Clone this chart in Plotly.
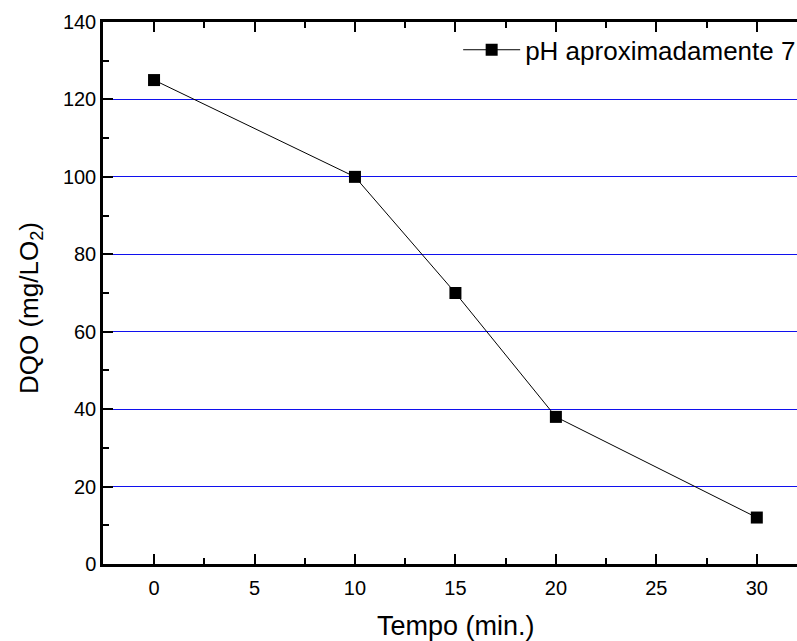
import plotly.graph_objects as go

tempo = [0, 10, 15, 20, 30]
dqo = [125, 100, 70, 38, 12]
series_name = "pH aproximadamente 7"
x_ticks = [0, 5, 10, 15, 20, 25, 30]
y_ticks = [0, 20, 40, 60, 80, 100, 120, 140]
x_title = "Tempo (min.)"
y_title = "DQO (mg/LO<sub>2</sub>)"

FONT = "Liberation Sans, Arial, sans-serif"

fig = go.Figure()
fig.add_trace(go.Scatter(
    x=tempo, y=dqo, mode="lines+markers", name=series_name,
    line=dict(color="black", width=1),
    marker=dict(symbol="square", size=12, color="black"),
))

fig.update_layout(
    width=797, height=641,
    margin=dict(l=103, r=0, t=22, b=77, autoexpand=False),
    paper_bgcolor="white", plot_bgcolor="white",
    font=dict(family=FONT, color="black"),
    showlegend=True,
    legend=dict(x=1.006, y=0.992, xanchor="right", yanchor="top",
                bgcolor="rgba(0,0,0,0)", borderwidth=0,
                font=dict(size=26, family=FONT), itemwidth=57),
    annotations=[
        dict(text=x_title, xref="paper", yref="paper", x=0.5086, y=-0.1144,
             xanchor="center", yanchor="middle", showarrow=False,
             font=dict(size=27, family=FONT, color="black")),
        dict(text=y_title, xref="paper", yref="paper", x=-0.1052, y=0.4723,
             xanchor="center", yanchor="middle", showarrow=False, textangle=-90,
             font=dict(size=26, family=FONT, color="black")),
    ],
)

fig.update_xaxes(
    range=[-2.54, 32.0],
    tickvals=x_ticks,
    ticks="inside", ticklen=10, tickwidth=2, tickcolor="black",
    minor=dict(ticks="inside", ticklen=6, tickwidth=2, tickcolor="black", dtick=2.5, tick0=0, showgrid=False),
    showline=True, linewidth=2.5, linecolor="black", mirror="ticks",
    showgrid=False, zeroline=False,
    tickfont=dict(size=20, family=FONT),
    ticklabelstandoff=4,
)

fig.update_yaxes(
    range=[0, 140],
    tickvals=y_ticks,
    ticks="inside", ticklen=10, tickwidth=2, tickcolor="black",
    minor=dict(ticks="inside", ticklen=6, tickwidth=2, tickcolor="black", dtick=10, tick0=0, showgrid=False),
    showline=True, linewidth=2.5, linecolor="black",
    showgrid=True, gridcolor="#1010ee", gridwidth=1,
    zeroline=False,
    tickfont=dict(size=20, family=FONT),
)

fig.write_html("out.html")
